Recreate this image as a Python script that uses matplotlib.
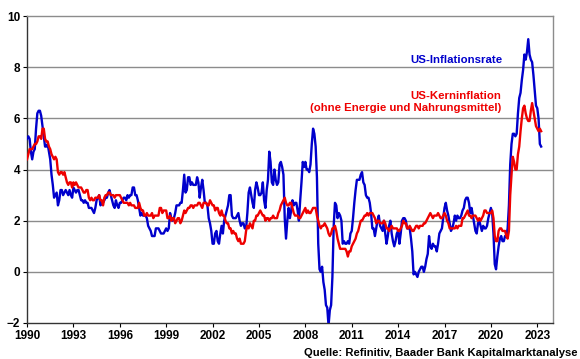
import numpy as np
import matplotlib.pyplot as plt

plt.rcParams['font.family'] = ['Liberation Sans', 'DejaVu Sans']
plt.rcParams['font.weight'] = 'bold'

# monatliche Vorjahresraten ab Jan 1990 (in %)
cpi = [
    5.2, 5.3, 5.2, 4.7, 4.4, 4.7, 4.8, 5.6, 6.2, 6.3, 6.3, 6.1,  # 1990
    5.7, 5.3, 4.9, 4.9, 5.0, 4.7, 4.4, 3.8, 3.4, 2.9, 3.0, 3.1,  # 1991
    2.6, 2.8, 3.2, 3.2, 3.0, 3.1, 3.2, 3.1, 3.0, 3.2, 3.0, 2.9,  # 1992
    3.3, 3.2, 3.1, 3.2, 3.2, 3.0, 2.8, 2.8, 2.7, 2.8, 2.7, 2.7,  # 1993
    2.5, 2.5, 2.5, 2.4, 2.3, 2.5, 2.8, 2.9, 3.0, 2.6, 2.7, 2.7,  # 1994
    2.8, 2.9, 2.9, 3.1, 3.2, 3.0, 2.8, 2.6, 2.5, 2.8, 2.6, 2.5,  # 1995
    2.7, 2.7, 2.8, 2.9, 2.9, 2.8, 3.0, 2.9, 3.0, 3.0, 3.3, 3.3,  # 1996
    3.0, 3.0, 2.8, 2.5, 2.2, 2.3, 2.2, 2.2, 2.2, 2.1, 1.8, 1.7,  # 1997
    1.6, 1.4, 1.4, 1.4, 1.7, 1.7, 1.7, 1.6, 1.5, 1.5, 1.5, 1.6,  # 1998
    1.7, 1.6, 1.7, 2.3, 2.1, 2.0, 2.1, 2.3, 2.6, 2.6, 2.6, 2.7,  # 1999
    2.7, 3.2, 3.8, 3.1, 3.2, 3.7, 3.7, 3.4, 3.5, 3.4, 3.4, 3.4,  # 2000
    3.7, 3.5, 2.9, 3.3, 3.6, 3.2, 2.7, 2.7, 2.6, 2.1, 1.9, 1.6,  # 2001
    1.1, 1.1, 1.5, 1.6, 1.2, 1.1, 1.5, 1.8, 1.5, 2.0, 2.2, 2.4,  # 2002
    2.6, 3.0, 3.0, 2.2, 2.1, 2.1, 2.1, 2.2, 2.3, 2.0, 1.8, 1.9,  # 2003
    1.9, 1.7, 1.7, 2.3, 3.1, 3.3, 3.0, 2.7, 2.5, 3.2, 3.5, 3.3,  # 2004
    3.0, 3.0, 3.1, 3.5, 2.8, 2.5, 3.2, 3.6, 4.7, 4.3, 3.5, 3.4,  # 2005
    4.0, 3.6, 3.4, 3.5, 4.2, 4.3, 4.1, 3.8, 2.1, 1.3, 2.0, 2.5,  # 2006
    2.1, 2.4, 2.8, 2.6, 2.7, 2.7, 2.4, 2.0, 2.8, 3.5, 4.3, 4.1,  # 2007
    4.3, 4.0, 4.0, 3.9, 4.2, 5.0, 5.6, 5.4, 4.9, 3.7, 1.1, 0.1,  # 2008
    0.0, 0.2, -0.4, -0.7, -1.3, -1.4, -2.1, -1.5, -1.3, -0.2, 1.8, 2.7,  # 2009
    2.6, 2.1, 2.3, 2.2, 2.0, 1.1, 1.2, 1.1, 1.1, 1.2, 1.1, 1.5,  # 2010
    1.6, 2.1, 2.7, 3.2, 3.6, 3.6, 3.6, 3.8, 3.9, 3.5, 3.4, 3.0,  # 2011
    2.9, 2.9, 2.7, 2.3, 1.7, 1.7, 1.4, 1.7, 2.0, 2.2, 1.8, 1.7,  # 2012
    1.6, 2.0, 1.5, 1.1, 1.4, 1.8, 2.0, 1.5, 1.2, 1.0, 1.2, 1.5,  # 2013
    1.6, 1.1, 1.5, 2.0, 2.1, 2.1, 2.0, 1.7, 1.7, 1.7, 1.3, 0.8,  # 2014
    -0.1, 0.0, -0.1, -0.2, 0.0, 0.1, 0.2, 0.2, 0.0, 0.2, 0.5, 0.7,  # 2015
    1.4, 1.0, 0.9, 1.1, 1.0, 1.0, 0.8, 1.1, 1.5, 1.6, 1.7, 2.1,  # 2016
    2.5, 2.7, 2.4, 2.2, 1.9, 1.6, 1.7, 1.9, 2.2, 2.0, 2.2, 2.1,  # 2017
    2.1, 2.2, 2.4, 2.5, 2.8, 2.9, 2.9, 2.7, 2.3, 2.5, 2.2, 1.9,  # 2018
    1.6, 1.5, 1.9, 2.0, 1.8, 1.6, 1.8, 1.7, 1.7, 1.8, 2.1, 2.3,  # 2019
    2.5, 2.3, 1.5, 0.3, 0.1, 0.6, 1.0, 1.3, 1.4, 1.2, 1.2, 1.4,  # 2020
    1.4, 1.7, 2.6, 4.2, 5.0, 5.4, 5.4, 5.3, 5.4, 6.2, 6.8, 7.0,  # 2021
    7.5, 7.9, 8.5, 8.3, 8.6, 9.1, 8.5, 8.3, 8.2, 7.7, 7.1, 6.5,  # 2022
    6.4, 6.0, 5.0, 4.9,  # 2023
]

core = [
    4.4, 4.6, 4.8, 4.8, 4.8, 4.9, 5.0, 5.0, 5.1, 5.3, 5.3, 5.2,  # 1990
    5.6, 5.6, 5.2, 5.1, 5.1, 4.9, 4.8, 4.6, 4.5, 4.4, 4.5, 4.4,  # 1991
    3.9, 3.8, 3.9, 3.9, 3.8, 3.9, 3.7, 3.5, 3.4, 3.5, 3.5, 3.3,  # 1992
    3.5, 3.4, 3.5, 3.4, 3.3, 3.3, 3.3, 3.2, 3.1, 3.1, 3.2, 3.2,  # 1993
    2.9, 2.8, 2.9, 2.8, 2.8, 2.9, 2.9, 2.9, 3.0, 2.8, 2.8, 2.6,  # 1994
    2.9, 3.0, 3.0, 3.1, 3.1, 3.0, 3.0, 3.0, 2.9, 3.0, 3.0, 3.0,  # 1995
    3.0, 2.9, 2.8, 2.7, 2.7, 2.7, 2.7, 2.6, 2.7, 2.6, 2.6, 2.6,  # 1996
    2.5, 2.5, 2.5, 2.7, 2.5, 2.4, 2.4, 2.2, 2.2, 2.3, 2.2, 2.2,  # 1997
    2.2, 2.3, 2.1, 2.2, 2.2, 2.2, 2.2, 2.5, 2.5, 2.3, 2.4, 2.4,  # 1998
    2.4, 2.1, 2.1, 2.2, 2.0, 2.1, 2.1, 1.9, 2.0, 2.1, 2.1, 1.9,  # 1999
    2.0, 2.2, 2.4, 2.3, 2.4, 2.5, 2.5, 2.6, 2.6, 2.5, 2.6, 2.6,  # 2000
    2.6, 2.7, 2.7, 2.6, 2.5, 2.7, 2.7, 2.7, 2.6, 2.6, 2.8, 2.7,  # 2001
    2.6, 2.6, 2.4, 2.5, 2.5, 2.3, 2.2, 2.4, 2.2, 2.2, 2.0, 1.9,  # 2002
    1.9, 1.7, 1.7, 1.5, 1.6, 1.5, 1.5, 1.3, 1.2, 1.3, 1.1, 1.1,  # 2003
    1.1, 1.2, 1.6, 1.8, 1.7, 1.9, 1.8, 1.7, 2.0, 2.0, 2.2, 2.2,  # 2004
    2.3, 2.4, 2.3, 2.2, 2.2, 2.0, 2.1, 2.1, 2.0, 2.1, 2.1, 2.2,  # 2005
    2.1, 2.1, 2.1, 2.3, 2.4, 2.6, 2.7, 2.8, 2.9, 2.7, 2.6, 2.6,  # 2006
    2.7, 2.7, 2.5, 2.3, 2.2, 2.2, 2.2, 2.1, 2.1, 2.2, 2.3, 2.4,  # 2007
    2.5, 2.3, 2.4, 2.3, 2.3, 2.4, 2.5, 2.5, 2.5, 2.2, 2.0, 1.8,  # 2008
    1.7, 1.8, 1.8, 1.9, 1.8, 1.7, 1.5, 1.4, 1.5, 1.7, 1.7, 1.8,  # 2009
    1.6, 1.3, 1.1, 0.9, 0.9, 0.9, 0.9, 0.9, 0.8, 0.6, 0.8, 0.8,  # 2010
    1.0, 1.1, 1.2, 1.3, 1.5, 1.6, 1.8, 2.0, 2.0, 2.1, 2.2, 2.2,  # 2011
    2.3, 2.2, 2.3, 2.3, 2.3, 2.2, 2.1, 1.9, 2.0, 2.0, 1.9, 1.9,  # 2012
    1.9, 2.0, 1.9, 1.7, 1.7, 1.6, 1.7, 1.8, 1.7, 1.7, 1.7, 1.7,  # 2013
    1.6, 1.6, 1.7, 1.8, 2.0, 1.9, 1.9, 1.7, 1.7, 1.8, 1.7, 1.6,  # 2014
    1.6, 1.7, 1.8, 1.8, 1.7, 1.8, 1.8, 1.8, 1.9, 1.9, 2.0, 2.1,  # 2015
    2.2, 2.3, 2.2, 2.1, 2.2, 2.2, 2.2, 2.3, 2.2, 2.1, 2.1, 2.2,  # 2016
    2.3, 2.2, 2.0, 1.9, 1.7, 1.7, 1.7, 1.7, 1.7, 1.8, 1.7, 1.8,  # 2017
    1.8, 1.8, 2.1, 2.1, 2.2, 2.3, 2.4, 2.2, 2.2, 2.1, 2.2, 2.2,  # 2018
    2.2, 2.1, 2.0, 2.1, 2.0, 2.1, 2.2, 2.4, 2.4, 2.3, 2.3, 2.3,  # 2019
    2.3, 2.4, 2.1, 1.4, 1.2, 1.2, 1.6, 1.7, 1.7, 1.6, 1.6, 1.6,  # 2020
    1.4, 1.3, 1.6, 3.0, 3.8, 4.5, 4.3, 4.0, 4.0, 4.6, 4.9, 5.5,  # 2021
    6.0, 6.4, 6.5, 6.2, 6.0, 5.9, 5.9, 6.3, 6.6, 6.3, 6.0, 5.7,  # 2022
    5.6, 5.5, 5.6, 5.5,  # 2023
]

start_year = 1990
x_ticks = list(range(1990, 2024, 3))
y_ticks = [-2, 0, 2, 4, 6, 8, 10]

t_cpi = start_year + np.arange(len(cpi)) / 12
t_core = start_year + np.arange(len(core)) / 12

blue = '#0000CC'
red = '#EE0000'
grey = '#8C8C8C'

fig = plt.figure(figsize=(5.8, 3.59), dpi=100)
ax = fig.add_axes([0.0466, 0.1003, 0.9064, 0.8547])

for y in y_ticks[1:-1]:
    ax.axhline(y, color=grey, linewidth=1.0, zorder=1)

ax.plot(t_cpi, cpi, color=blue, linewidth=1.7, zorder=3)
ax.plot(t_core, core, color=red, linewidth=1.7, zorder=4)

ax.set_xlim(1990, 2024)
ax.set_ylim(-2, 10)
ax.set_xticks(x_ticks)
ax.set_yticks(y_ticks)
ax.tick_params(axis='both', labelsize=8.5, length=3, width=0.8, colors='black')
ax.tick_params(axis='x', pad=2)
ax.tick_params(axis='y', pad=2)
for lbl in ax.get_xticklabels() + ax.get_yticklabels():
    lbl.set_fontweight('bold')

ax.spines['top'].set_color(grey)
ax.spines['right'].set_color(grey)
ax.spines['left'].set_color('#333333')
ax.spines['bottom'].set_color('#333333')
for s in ax.spines.values():
    s.set_linewidth(1.0)

ax.text(2020.75, 8.28, 'US-Inflationsrate', color=blue, fontsize=8.2,
        fontweight='bold', ha='right', va='center')
ax.text(2020.65, 6.88, 'US-Kerninflation', color=red, fontsize=8.2,
        fontweight='bold', ha='right', va='center')
ax.text(2020.65, 6.4, '(ohne Energie und Nahrungsmittel)', color=red, fontsize=8.2,
        fontweight='bold', ha='right', va='center')

fig.text(0.995, 0.0167, 'Quelle: Refinitiv, Baader Bank Kapitalmarktanalyse',
         fontsize=8.1, fontweight='bold', ha='right', va='center')

fig.savefig('out.png', dpi=100)
